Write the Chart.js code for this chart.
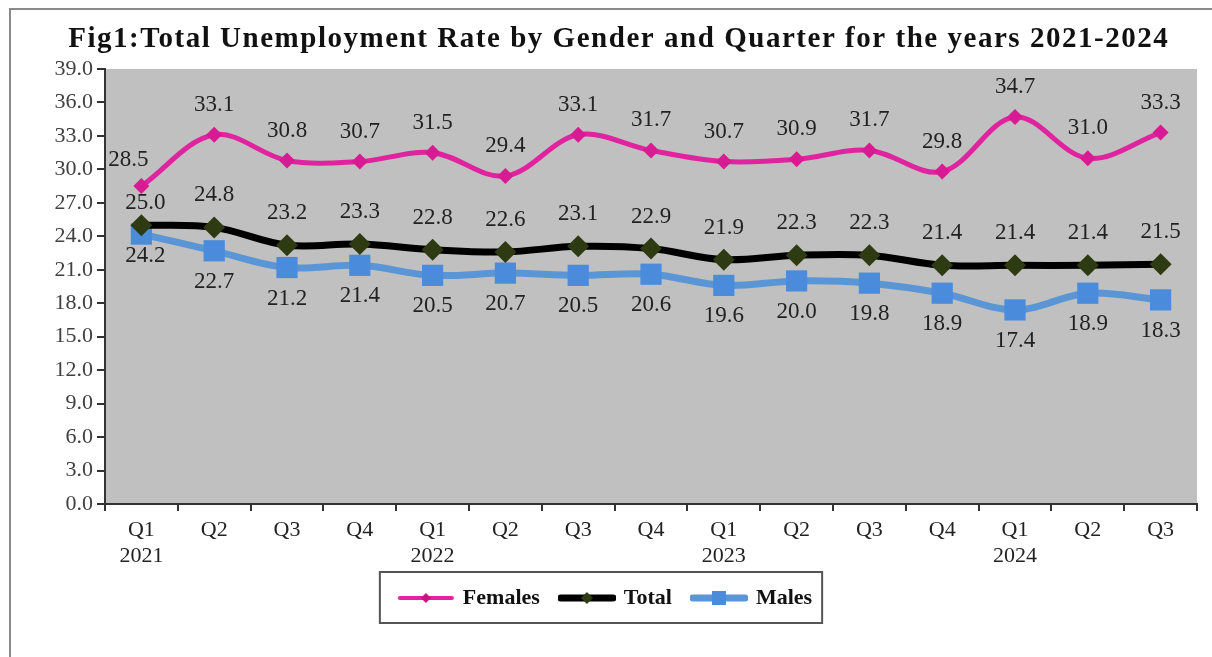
<!DOCTYPE html>
<html>
<head>
<meta charset="utf-8">
<script src="https://cdn.jsdelivr.net/npm/chart.js@4/dist/chart.umd.min.js"></script>
<style>
  html, body { margin: 0; padding: 0; background: #fff; }
</style>
</head>
<body>
<canvas id="chart" width="1212" height="657"></canvas>
<script>
// data
const quarters = [['Q1', '2021'], 'Q2', 'Q3', 'Q4', ['Q1', '2022'], 'Q2', 'Q3', 'Q4',
  ['Q1', '2023'], 'Q2', 'Q3', 'Q4', ['Q1', '2024'], 'Q2', 'Q3'];
const females = [28.5, 33.1, 30.8, 30.7, 31.5, 29.4, 33.1, 31.7, 30.7, 30.9, 31.7, 29.8, 34.7, 31.0, 33.3];
const total = [25.0, 24.8, 23.2, 23.3, 22.8, 22.6, 23.1, 22.9, 21.9, 22.3, 22.3, 21.4, 21.4, 21.4, 21.5];
const males = [24.2, 22.7, 21.2, 21.4, 20.5, 20.7, 20.5, 20.6, 19.6, 20.0, 19.8, 18.9, 17.4, 18.9, 18.3];
const yMin = 0, yMax = 39, yStep = 3;
const titleText = 'Fig1:Total Unemployment Rate by Gender and Quarter for the years 2021-2024';

const SERIF = '"Liberation Serif", "Times New Roman", serif';

// small canvas icons for the legend: line with marker in the middle
function legendIcon(lineColor, lineWidth, markerColor, shape, r) {
  const c = document.createElement('canvas');
  c.width = 58; c.height = 24;
  const g = c.getContext('2d');
  g.strokeStyle = lineColor;
  g.lineWidth = lineWidth;
  g.lineCap = 'round';
  g.beginPath(); g.moveTo(3, 12); g.lineTo(55, 12); g.stroke();
  g.fillStyle = markerColor;
  g.beginPath();
  if (shape === 'diamond') {
    g.moveTo(29 - r, 12); g.lineTo(29, 12 - r); g.lineTo(29 + r, 12); g.lineTo(29, 12 + r);
  } else {
    g.rect(29 - r, 12 - r, 2 * r, 2 * r);
  }
  g.fill();
  return c;
}
const icons = [
  legendIcon('#E0239F', 4, '#C8147F', 'diamond', 5),
  legendIcon('#000000', 7, '#2E3A12', 'diamond', 6),
  legendIcon('#5A96D6', 7, '#4A8CDB', 'square', 7)
];

const valueLabels = {
  id: 'valueLabels',
  afterDatasetsDraw(chart) {
    const ctx = chart.ctx;
    ctx.save();
    ctx.font = '23px ' + SERIF;
    ctx.fillStyle = '#222';
    ctx.textAlign = 'center';
    ctx.textBaseline = 'middle';
    chart.data.datasets.forEach((ds, i) => {
      chart.getDatasetMeta(i).data.forEach((pt, j) => {
        const dy = j === 0 ? ds.labelDy0 : ds.labelDy;
        const dx = j === 0 ? ds.labelDx0 : 0;
        ctx.fillText(ds.data[j].toFixed(1), pt.x + dx, pt.y + dy);
      });
    });
    ctx.restore();
  }
};

const decor = {
  id: 'decor',
  beforeDraw(chart) {
    const { ctx, chartArea: a } = chart;
    ctx.save();
    // outer frame
    ctx.strokeStyle = '#8a8a8a';
    ctx.lineWidth = 2;
    ctx.strokeRect(10, 9, 1300, 800);
    // plot area fill
    ctx.fillStyle = '#C0C0C0';
    ctx.fillRect(a.left, a.top, a.right - a.left, a.bottom - a.top);
    ctx.restore();
  },
  afterDraw(chart) {
    const ctx = chart.ctx;
    ctx.save();
    // title with some letter spacing, like the original
    ctx.font = 'bold 29px ' + SERIF;
    ctx.fillStyle = '#111';
    ctx.textAlign = 'center';
    ctx.textBaseline = 'middle';
    const w = ctx.measureText(titleText).width;
    const sp = Math.max(0, (1100 - w) / (titleText.length - 1));
    ctx.letterSpacing = sp.toFixed(2) + 'px';
    ctx.fillText(titleText, 618 + sp / 2, 40);
    ctx.letterSpacing = '0px';
    // border round the legend
    const hb = chart.legend.legendHitBoxes;
    if (hb && hb.length) {
      const l = Math.min(...hb.map(h => h.left)) - 20;
      const r = Math.max(...hb.map(h => h.left + h.width)) + 10;
      const cy = hb[0].top + hb[0].height / 2;
      ctx.strokeStyle = '#555';
      ctx.lineWidth = 2;
      ctx.strokeRect(l, cy - 26, r - l, 51);
    }
    ctx.restore();
  }
};

new Chart(document.getElementById('chart'), {
  type: 'line',
  data: {
    labels: quarters,
    datasets: [
      {
        label: 'Females',
        data: females,
        borderColor: '#E0239F',
        backgroundColor: '#D81A93',
        borderWidth: 5,
        pointStyle: 'rectRot',
        pointRadius: 8,
        pointBorderWidth: 0,
        tension: 0.35,
        labelDy: -30, labelDy0: -26, labelDx0: -13
      },
      {
        label: 'Total',
        data: total,
        borderColor: '#000000',
        backgroundColor: '#2E3A12',
        borderWidth: 7,
        pointStyle: 'rectRot',
        pointRadius: 11,
        pointBorderWidth: 0,
        tension: 0.35,
        labelDy: -32, labelDy0: -22, labelDx0: 4
      },
      {
        label: 'Males',
        data: males,
        borderColor: '#5A96D6',
        backgroundColor: '#4A8CDB',
        borderWidth: 7,
        pointStyle: 'rect',
        pointRadius: 15,
        pointBorderWidth: 0,
        tension: 0.35,
        labelDy: 31, labelDy0: 22, labelDx0: 4
      }
    ]
  },
  options: {
    responsive: false,
    animation: false,
    devicePixelRatio: 1,
    layout: { padding: { top: 69, left: 10, right: 10, bottom: 38 } },
    scales: {
      x: {
        offset: true,
        afterFit: s => { s.height = 62; },
        border: { display: true, color: '#333', width: 2 },
        grid: { offset: true, drawOnChartArea: false, drawTicks: true, tickLength: 7, color: '#333', lineWidth: 2 },
        ticks: {
          color: '#222', padding: 6, maxRotation: 0, autoSkip: false,
          font: { family: SERIF, size: 22, lineHeight: 1.18 }
        }
      },
      y: {
        min: yMin,
        max: yMax,
        afterFit: s => { s.width = 95; },
        border: { display: true, color: '#333', width: 2 },
        grid: { drawOnChartArea: false, drawTicks: true, tickLength: 8, color: '#333', lineWidth: 2 },
        ticks: {
          stepSize: yStep, color: '#404040', padding: 4,
          font: { family: SERIF, size: 22 },
          callback: v => Number(v).toFixed(1)
        }
      }
    },
    plugins: {
      title: { display: false },
      tooltip: { enabled: false },
      legend: {
        position: 'bottom',
        labels: {
          usePointStyle: true,
          pointStyleWidth: 52,
          padding: 21,
          color: '#111',
          font: { family: SERIF, size: 22, weight: 'bold' },
          generateLabels(chart) {
            const items = Chart.defaults.plugins.legend.labels.generateLabels(chart);
            items.forEach((it, i) => { it.pointStyle = icons[i]; });
            return items;
          }
        }
      }
    }
  },
  plugins: [decor, valueLabels]
});
</script>
</body>
</html>
